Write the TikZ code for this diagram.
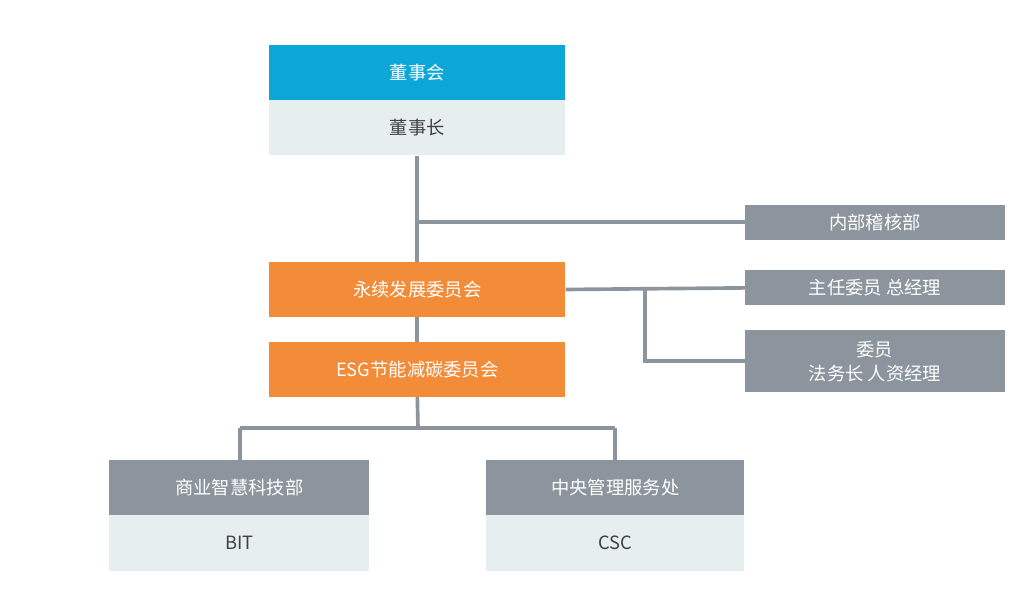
\documentclass[tikz,border=0pt]{standalone}
\usepackage{fontspec}
\setmainfont{Noto Sans CJK SC}
\usepackage{xcolor}
\usetikzlibrary{positioning}
\definecolor{boardblue}{HTML}{0DA6D8}
\definecolor{esgorange}{HTML}{F28C38}
\definecolor{deptgray}{HTML}{8C959D}
\definecolor{lightbox}{HTML}{E6EEEF}
\tikzset{
  every node/.style={font=\fontsize{13}{17}\selectfont},
  box/.style={
    anchor=north west,
    minimum width=7.4cm,
    minimum height=1.38cm,
    inner sep=0pt,
    text=white,
    align=center
  },
  sidebox/.style={
    box,
    fill=deptgray,
    minimum width=6.48cm
  },
  link/.style={
    draw=deptgray,
    line width=2.6pt
  }
}
\begin{document}
\begin{tikzpicture}[x=0.025cm,y=-0.025cm]
  \useasboundingbox (0,0) rectangle (1024,612);

  % Connectors (behind boxes)
  \coordinate (j1) at (418,222);
  \coordinate (j2) at (645,289);
  \coordinate (j3) at (645,361);
  \coordinate (j4) at (418,428);
  \coordinate (j5) at (240,428);
  \coordinate (j6) at (615,428);

  % Top boxes
  \node[box, fill=boardblue] (board) at (269,45) {董事会};
  \node[box, fill=lightbox, text=black!75] (chair) at (269,100) {董事长};
  \node[box, fill=esgorange, minimum height=1.36cm] (sust) at (269,262) {永续发展委员会};
  \node[box, fill=esgorange, minimum height=1.36cm] (esg) at (269,342) {ESG节能减碳委员会};

  % Side boxes
  \node[sidebox, minimum height=0.88cm] (audit) at (745,205) {内部稽核部};
  \node[sidebox, minimum height=0.88cm] (chief) at (745,270) {主任委员\ 总经理};
  \node[sidebox, minimum height=1.55cm, text height=0pt] (member) at (745,330) {};
  \node[text=white, align=center, font=\fontsize{13}{17}\selectfont] (membertext) at (member.center) {委员\\法务长\ 人资经理};

  % Bottom boxes
  \node[box, fill=deptgray, minimum width=6.5cm] (bit) at (109,460) {商业智慧科技部};
  \node[box, fill=lightbox, text=black!75, minimum width=6.5cm] (bitcode) at (109,515) {BIT};
  \node[box, fill=deptgray, minimum width=6.45cm] (csc) at (486,460) {中央管理服务处};
  \node[box, fill=lightbox, text=black!75, minimum width=6.45cm] (csccode) at (486,515) {CSC};

  % Lines
  \draw[link] (chair.south) -- (sust.north);
  \draw[link] (j1) -- (audit.west |- j1);
  \draw[link] (sust.south) -- (esg.north);
  \draw[link] (sust.east) -- (chief.west);
  \draw[link] (j2) -- (j3) -- (member.west |- j3);
  \draw[link] (esg.south) -- (j4);
  \draw[link] (j5) -- (j6);
  \draw[link] (j5) -- (j5 |- bit.north);
  \draw[link] (j6) -- (j6 |- csc.north);
\end{tikzpicture}
\end{document}
